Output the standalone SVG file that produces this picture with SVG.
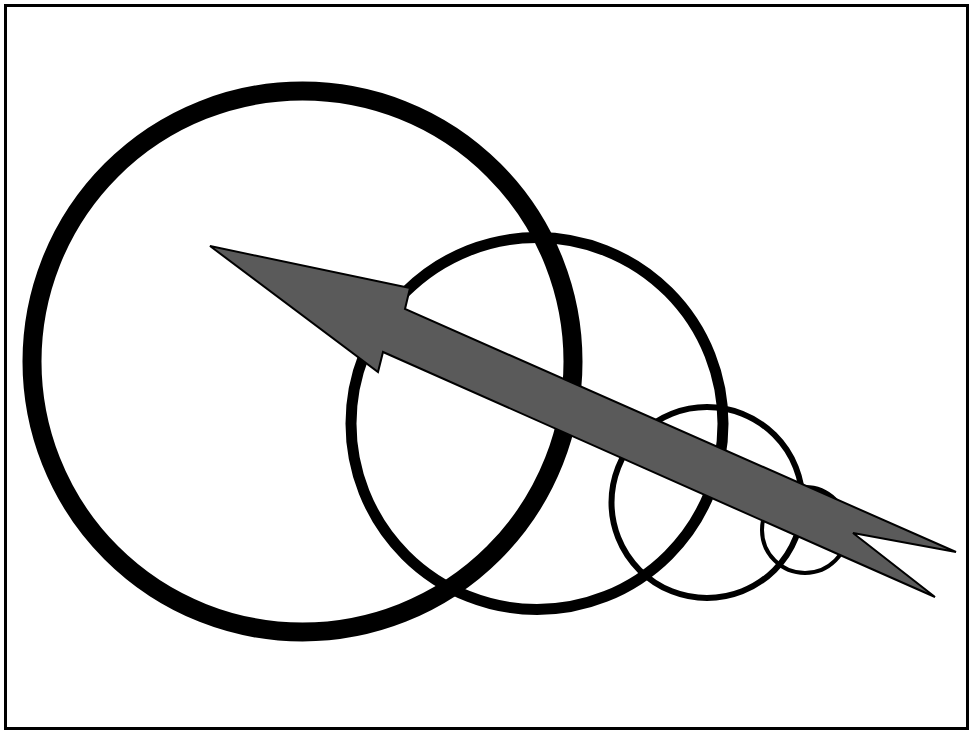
<svg xmlns="http://www.w3.org/2000/svg" width="970" height="731" viewBox="0 0 970 731">
<style>
.ring{fill:none;stroke:#000}
.arrow{fill:#5a5a5a;stroke:#000;stroke-width:2;stroke-linejoin:miter}
</style>
<rect x="0" y="0" width="970" height="731" fill="#fff"/>
<rect id="frame" x="5.5" y="5.5" width="962" height="723" fill="none" stroke="#000" stroke-width="3"/>
<g id="circle1"><circle class="ring" cx="302.5" cy="361.5" r="270.5" stroke-width="19"/></g>
<g id="circle2"><circle class="ring" cx="537" cy="423.5" r="186" stroke-width="11"/></g>
<g id="circle3"><circle class="ring" cx="707" cy="502.5" r="95.5" stroke-width="6"/></g>
<g id="circle4"><circle class="ring" cx="805" cy="530" r="43" stroke-width="4"/></g>
<g id="arrow">
<polygon class="arrow" points="210,246 410,288 405,309 956,552 853,533 935,597 840,555 383,352 378,372"/>
</g>
</svg>
